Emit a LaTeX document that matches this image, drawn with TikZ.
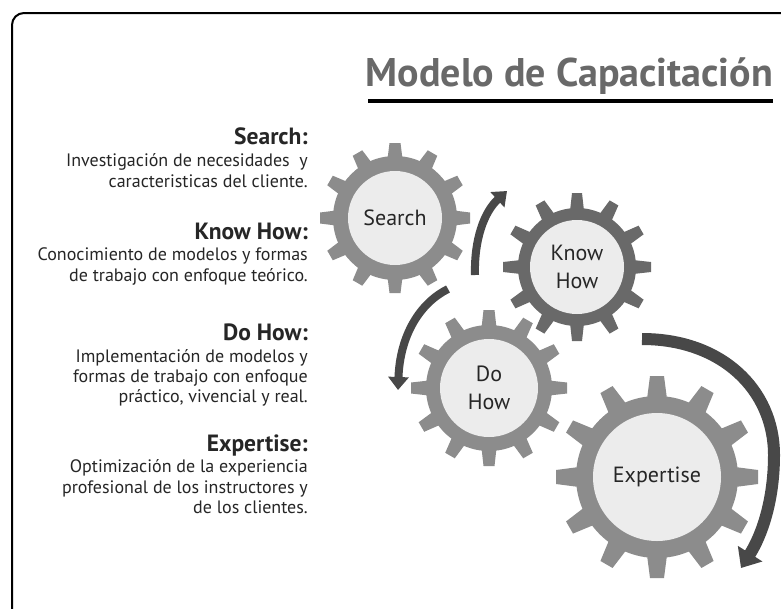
\documentclass[tikz,border=0pt]{standalone}
\usepackage{fontspec}
\setmainfont{PT Sans}
\usetikzlibrary{arrows.meta}
\definecolor{geargray}{RGB}{140,140,140}
\definecolor{geardark}{RGB}{105,105,105}
\definecolor{gearin}{RGB}{236,236,236}
\definecolor{arrowgray}{RGB}{72,72,72}
\definecolor{titlegray}{RGB}{105,105,105}
\newcommand\mygear[8]{%
  \begin{scope}[shift={(#1,#2)}]
    \fill[#8] (0,0) circle[radius=#4];
    \foreach \a in {0,30,...,330}{%
      \fill[#8,rotate=\a] ({-#6},{#4-3}) -- ({-#7},{#5}) -- ({#7},{#5}) -- ({#6},{#4-3}) -- cycle;}
    \fill[gearin] (0,0) circle[radius=#3];
  \end{scope}}
\begin{document}
\begin{tikzpicture}[x=1pt,y=-1pt,
  headsty/.style={font=\fontsize{23.5}{26}\selectfont\bfseries, text=black!85, anchor=base east, inner sep=0},
  bodysty/.style={font=\fontsize{18}{20}\selectfont, text=black!85, anchor=base east, inner sep=0},
  gearlabel/.style={font=\fontsize{22}{28}\selectfont, text=black!85, align=center, inner sep=0},
  arr/.style={draw=arrowgray, line width=8, -{Triangle[width=20,length=13]}},
  bigarr/.style={draw=arrowgray, line width=12, -{Triangle[width=28,length=17]}},
  frame/.style={draw=black, line width=2}]
\useasboundingbox (0,0) rectangle (781,608);
\clip (0,0) rectangle (781,608);
\fill[white] (0,0) rectangle (781,608);
% frame
\draw[frame, rounded corners=12] (12,620) -- (12,13) -- (800,13);
% title
\node[font=\fontsize{40}{44}\selectfont\bfseries, text=titlegray, anchor=base east, inner sep=0] (title) at (773,86) {Modelo de Capacitación};
\draw[line width=4] (368,101) -- (773,101);
% left texts
\node[headsty] (h1) at (308,144) {Search:};
\node[bodysty] (b11) at (308,166) {Investigación de necesidades\ \ y};
\node[bodysty] (b12) at (308,187) {caracteristicas del cliente.};
\node[headsty] (h2) at (308,239) {Know How:};
\node[bodysty] (b21) at (308,260) {Conocimiento de modelos y formas};
\node[bodysty] (b22) at (308,281) {de trabajo con enfoque teórico.};
\node[headsty] (h3) at (308,340) {Do How:};
\node[bodysty] (b31) at (308,362) {Implementación de modelos y};
\node[bodysty] (b32) at (308,382) {formas de trabajo con enfoque};
\node[bodysty] (b33) at (308,402) {práctico, vivencial y real.};
\node[headsty] (h4) at (308,451) {Expertise:};
\node[bodysty] (b41) at (308,472) {Optimización de la experiencia};
\node[bodysty] (b42) at (308,493) {profesional de los instructores y};
\node[bodysty] (b43) at (308,513) {de los clientes.};
% gears
\mygear{395}{218}{47}{62}{75}{7.5}{5.5}{geargray}
\mygear{577}{267}{47}{59}{74}{7}{5}{geardark}
\mygear{489}{388}{49}{63}{78}{7.5}{5.5}{geargray}
\mygear{657}{477}{64}{81}{101}{10}{7}{geargray}
\node[gearlabel] (search) at (395,218) {Search};
\node[gearlabel] (know) at (577,267) {Know\\How};
\node[gearlabel] (do) at (489,388) {Do\\How};
\node[gearlabel] (expert) at (657,477) {Expertise};
% arrows
\coordinate (a1s) at (475,275);
\coordinate (a1e) at (507,191);
\draw[arr] (a1s) .. controls (474,240) and (484,212) .. (a1e);
\coordinate (a2s) at (448,289);
\coordinate (a2e) at (398,390);
\draw[arr] (a2s) .. controls (420,303) and (400,335) .. (a2e);
\coordinate (a3s) at (642,339);
\coordinate (a3e) at (741,568);
\draw[bigarr] (a3s) .. controls (722,339) and (774,390) .. (774,455) .. controls (774,500) and (762,535) .. (a3e);
\end{tikzpicture}
\end{document}
